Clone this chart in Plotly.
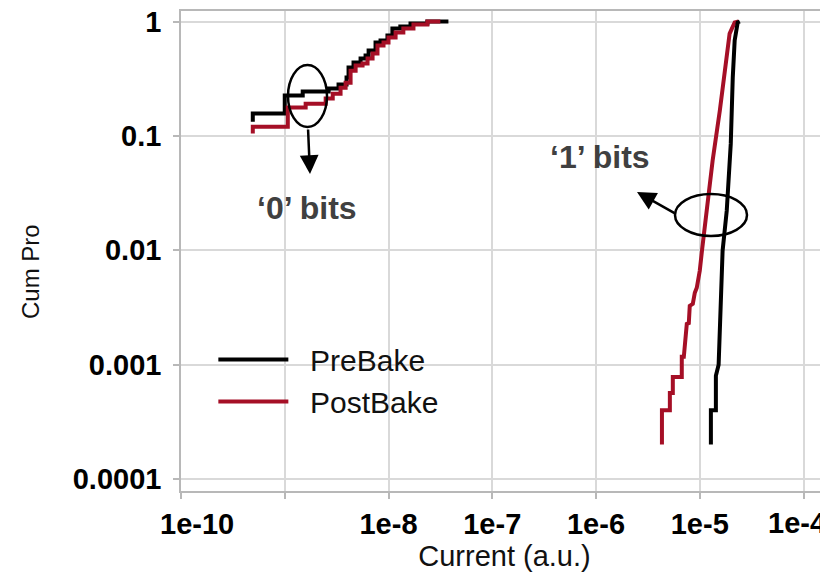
import plotly.graph_objects as go

# ---------------- data ----------------
# '0' bits, cumulative probability vs current
pre_zero_current = [4.92e-10, 1.0e-9, 1.49e-9, 2.65e-9, 3.30e-9, 3.94e-9, 4.12e-9, 4.60e-9,
                    5.38e-9, 6.01e-9, 6.43e-9, 7.50e-9, 8.38e-9, 9.77e-9, 1.09e-8, 1.30e-8,
                    1.63e-8, 2.37e-8, 3.78e-8]
pre_zero_cum = [0.133, 0.157, 0.225, 0.244, 0.259, 0.281, 0.324, 0.396, 0.438, 0.474, 0.504,
                0.557, 0.655, 0.682, 0.754, 0.868, 0.904, 0.961, 1.0]

post_zero_current = [4.92e-10, 1.07e-9, 1.59e-9, 2.48e-9, 2.90e-9, 3.45e-9, 3.86e-9, 4.31e-9,
                     4.82e-9, 5.62e-9, 6.28e-9, 7.02e-9, 7.83e-9, 8.95e-9, 1.0e-8, 1.17e-8,
                     1.39e-8, 1.74e-8, 2.37e-8, 3.16e-8]
post_zero_cum = [0.105, 0.1205, 0.177, 0.191, 0.212, 0.234, 0.264, 0.292, 0.372, 0.412, 0.429,
                 0.474, 0.525, 0.617, 0.655, 0.724, 0.801, 0.868, 0.941, 1.0]

# '1' bits
pre_one_current = [1.28e-5, 1.28e-5, 1.43e-5, 1.43e-5, 1.52e-5, 1.56e-5, 1.63e-5, 1.66e-5,
                   1.82e-5, 1.99e-5, 2.08e-5, 2.17e-5, 2.32e-5, 2.43e-5]
pre_one_cum = [0.0002, 0.0004, 0.0004, 0.0008, 0.001, 0.00186, 0.00509, 0.0099, 0.0222,
               0.0855, 0.324, 0.682, 0.98, 1.0]

post_one_current = [4.32e-6, 4.32e-6, 5.15e-6, 5.15e-6, 5.50e-6, 5.50e-6, 6.71e-6, 6.71e-6,
                    7.02e-6, 7.50e-6, 7.84e-6, 8.01e-6, 8.57e-6, 8.96e-6, 9.36e-6, 1.0e-5,
                    1.05e-5, 1.17e-5, 1.33e-5, 1.56e-5, 1.78e-5, 1.94e-5, 2.17e-5, 2.37e-5]
post_one_cum = [0.0002, 0.0004, 0.0004, 0.000566, 0.000566, 0.000781, 0.000781, 0.00117,
                0.00117, 0.00227, 0.00231, 0.00327, 0.0034, 0.00425, 0.0047, 0.00662, 0.0099,
                0.0222, 0.0607, 0.166, 0.456, 0.785, 0.98, 1.0]

x_tick_vals = [1e-10, 1e-9, 1e-8, 1e-7, 1e-6, 1e-5, 1e-4]
x_tick_text = ["\u00a0\u00a0\u00a0\u00a01e-10", "", "1e-8", "1e-7", "1e-6", "1e-5", ""]
x_edge_label = "1e-4"   # last decade label, drawn so it stays inside the page
y_tick_vals = [1e-4, 1e-3, 1e-2, 1e-1, 1]
y_tick_text = ["0.0001", "0.001", "0.01", "0.1", "1"]

PRE_COLOR = "#000000"
POST_COLOR = "#a50f26"
FONT = "Liberation Sans, Arial, Helvetica, sans-serif"
NB = "\u00a0\u00a0"

fig = go.Figure()
fig.add_trace(go.Scatter(x=pre_zero_current, y=pre_zero_cum, mode="lines", name=NB + "PreBake",
                         line=dict(color=PRE_COLOR, width=4, shape="vh"),
                         legendgroup="pre", showlegend=True))
fig.add_trace(go.Scatter(x=post_zero_current, y=post_zero_cum, mode="lines", name=NB + "PostBake",
                         line=dict(color=POST_COLOR, width=4, shape="vh"),
                         legendgroup="post", showlegend=True))
fig.add_trace(go.Scatter(x=post_one_current, y=post_one_cum, mode="lines", name="PostBake",
                         line=dict(color=POST_COLOR, width=4),
                         legendgroup="post", showlegend=False))
fig.add_trace(go.Scatter(x=pre_one_current, y=pre_one_cum, mode="lines", name="PreBake",
                         line=dict(color=PRE_COLOR, width=4),
                         legendgroup="pre", showlegend=False))

# the page body has an 8px default margin, so the figure is 8px smaller
OFF = 8
W, H = 828 - OFF, 573 - OFF
L, R, T, B = 181 - OFF, 0, 11 - OFF, 82

TICK_FONT = dict(family=FONT, size=29, color="#000000", weight="bold")

axis_common = dict(
    type="log", showgrid=True, gridcolor="#d9d9d9", gridwidth=1.5,
    showline=True, linecolor="#b8b8b8", linewidth=1.5,
    ticks="outside", ticklen=6, tickcolor="#b8b8b8", tickwidth=1.5,
    zeroline=False, automargin=False, ticklabeloverflow="allow",
    tickfont=TICK_FONT,
)

fig.update_layout(
    width=W, height=H,
    margin=dict(l=L, r=R, t=T, b=B),
    paper_bgcolor="white", plot_bgcolor="white",
    font=dict(family=FONT, color="#000000"),
    xaxis=dict(axis_common, range=[-10, -3.764], tickvals=x_tick_vals, ticktext=x_tick_text,
               mirror=True, ticklabelstandoff=0,
               title=dict(text="Current (a.u.)", font=dict(family=FONT, size=29, color="#111111"),
                          standoff=3)),
    yaxis=dict(axis_common, range=[-4.105, 0.092], tickvals=y_tick_vals, ticktext=y_tick_text,
               ticklabelstandoff=6),
    legend=dict(x=0.05, y=0.328, xanchor="left", yanchor="top",
                bgcolor="rgba(0,0,0,0)", borderwidth=0,
                font=dict(family=FONT, size=30, color="#111111"),
                itemwidth=70, tracegroupgap=0),
    showlegend=True,
)

def px_x(p):
    """reference-picture pixel x -> paper coordinate"""
    return (p - OFF - L) / (W - L - R)

def px_y(p):
    """reference-picture pixel y -> paper coordinate"""
    return (H - B - (p - OFF)) / (H - T - B)

# last x tick label (kept inside the right edge, as in the reference)
fig.add_annotation(xref="paper", yref="paper", x=px_x(797), y=px_y(523),
                   xanchor="center", yanchor="middle", text=x_edge_label, showarrow=False,
                   font=TICK_FONT)

# y axis title placed as rotated text
fig.add_annotation(xref="paper", yref="paper", x=px_x(30), y=px_y(272),
                   xanchor="center", yanchor="middle",
                   text="Cum Pro", showarrow=False, textangle=-90,
                   font=dict(family=FONT, size=24, color="#111111"))

# ellipses
fig.add_shape(type="circle", xref="paper", yref="paper",
              x0=px_x(288), x1=px_x(327), y0=px_y(127), y1=px_y(65),
              line=dict(color="black", width=2.5))
fig.add_shape(type="circle", xref="paper", yref="paper",
              x0=px_x(675), x1=px_x(747), y0=px_y(236), y1=px_y(194),
              line=dict(color="black", width=2.5))

# arrows
fig.add_annotation(xref="paper", yref="paper", x=px_x(310), y=px_y(174), ax=-2, ay=-46,
                   text="", showarrow=True, arrowhead=2, arrowsize=1.5, arrowwidth=2.5,
                   arrowcolor="black")
fig.add_annotation(xref="paper", yref="paper", x=px_x(637), y=px_y(192), ax=39, ay=22,
                   text="", showarrow=True, arrowhead=2, arrowsize=1.5, arrowwidth=2.5,
                   arrowcolor="black")

# labels
fig.add_annotation(xref="paper", yref="paper", x=px_x(307), y=px_y(208),
                   xanchor="center", yanchor="middle",
                   text="‘0’ bits", showarrow=False,
                   font=dict(family=FONT, size=32, color="#404040", weight="bold"))
fig.add_annotation(xref="paper", yref="paper", x=px_x(600), y=px_y(157),
                   xanchor="center", yanchor="middle",
                   text="‘1’ bits", showarrow=False,
                   font=dict(family=FONT, size=32, color="#404040", weight="bold"))

fig.write_html("out.html")
